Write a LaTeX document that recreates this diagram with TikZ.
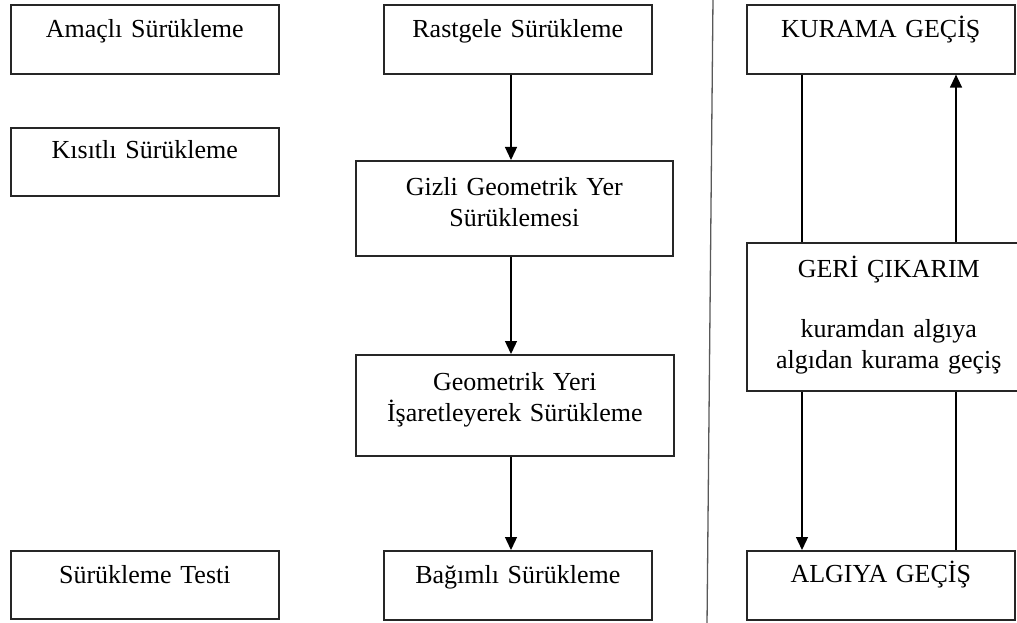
\documentclass[tikz,border=0pt]{standalone}
\usepackage{fontspec}
\setmainfont{Liberation Serif}
\usetikzlibrary{arrows.meta}
\begin{document}
\begin{tikzpicture}[x=1pt, y=-1pt]

	\tikzset{
		box/.style={draw=black!85, line width=1.6pt, inner sep=0pt, anchor=north west,
			align=center, font=\fontsize{26}{31}\selectfont},
		sz/.style n args={3}{text width=#1pt, text height=#2pt, text depth=#3pt},
		arr/.style={line width=1.3pt, -{Triangle[length=13pt, width=12pt]}},
		link/.style={line width=1.3pt},
		divider/.style={line width=1.3pt, draw=black!65}
	}
	\useasboundingbox (0,0) rectangle (1017,623);

	% ---------------------------
	% left column
	% ---------------------------
	\node[box, sz={268}{33}{36}] (amacli) at (10,4) {Amaçlı Sürükleme};
	\node[box, sz={268}{31}{37}] (kisitli) at (10,127) {Kısıtlı Sürükleme};
	\node[box, sz={268}{33}{35}] (testi) at (10,550) {Sürükleme Testi};

	% ---------------------------
	% middle column (chain)
	% ---------------------------
	\node[box, sz={268}{33}{36}] (rastgele) at (383,4) {Rastgele Sürükleme};
	\node[box, sz={317}{35}{60}] (gizli) at (355,160) {Gizli Geometrik Yer\\Sürüklemesi};
	\node[box, sz={318}{36}{65}] (yeri) at (355,354) {Geometrik Yeri\\İşaretleyerek Sürükleme};
	\node[box, sz={268}{33}{36}] (bagimli) at (383,550) {Bağımlı Sürükleme};

	\coordinate (mid) at (511,0);
	\draw[arr] (rastgele.south -| mid) -- (gizli.north -| mid);
	\draw[arr] (gizli.south -| mid) -- (yeri.north -| mid);
	\draw[arr] (yeri.south -| mid) -- (bagimli.north -| mid);

	% separator
	\draw[divider] (713,-2) -- (707,625);

	% ---------------------------
	% right column (loop)
	% ---------------------------
	\node[box, sz={268}{33}{36}] (kurama) at (746,4) {KURAMA GEÇİŞ};
	\node[box, sz={284}{35}{113}] (geri) at (746,242)
		{GERİ ÇIKARIM\\[29pt]kuramdan algıya\\algıdan kurama geçiş};
	\node[box, sz={268}{32}{37}] (algiya) at (746,550) {ALGIYA GEÇİŞ};

	\coordinate (rl) at (802,0);
	\coordinate (rr) at (956,0);
	\draw[link] (kurama.south -| rl) -- (geri.north -| rl);
	\draw[arr] (geri.north -| rr) -- (kurama.south -| rr);
	\draw[arr] (geri.south -| rl) -- (algiya.north -| rl);
	\draw[link] (algiya.north -| rr) -- (geri.south -| rr);

\end{tikzpicture}
\end{document}
